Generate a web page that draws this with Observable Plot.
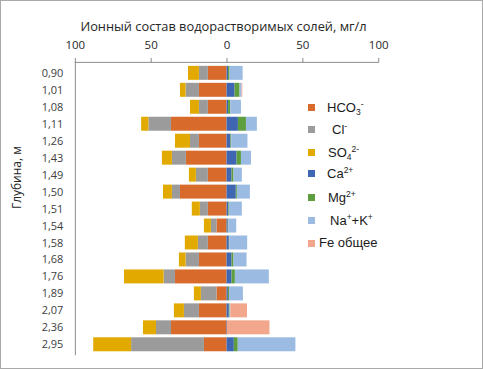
<!DOCTYPE html>
<html>
<head>
<meta charset="utf-8">
<script src="https://cdn.jsdelivr.net/npm/d3@7"></script>
<script src="https://cdn.jsdelivr.net/npm/@observablehq/plot@0.6"></script>
<style>
  html, body { margin: 0; padding: 0; background: #fff; }
  #wrap { position: relative; width: 483px; height: 369px; box-sizing: border-box; border: 1px solid #a9a9a9; overflow: hidden; font-family: "Open Sans", "Liberation Sans", sans-serif; }
  #chart { position: absolute; left: -1px; top: -1px; }
  #title { position: absolute; left: 0; width: 445px; top: 16px; text-align: center; font-size: 12.8px; color: #262626; }
  #legend { position: absolute; left: 307px; top: 0; font-family: "Liberation Sans", Arial, sans-serif; font-size: 13px; color: #1a1a1a; }
  .li { position: absolute; white-space: nowrap; }
  .sw { position: absolute; width: 7px; height: 7px; }
  .li sub, .li sup { font-size: 8.5px; }
  .li sub { vertical-align: -3px; }
  .li sup { vertical-align: 5px; }
</style>
</head>
<body>
<div id="wrap">
  <div id="chart"></div>
  <div id="title">Ионный состав водорастворимых солей, мг/л</div>
  <div id="legend"></div>
</div>
<script>
const depths = ["0,90","1,01","1,08","1,11","1,26","1,43","1,49","1,50","1,51","1,54","1,58","1,68","1,76","1,89","2,07","2,36","2,95"];
const hco3 = [12.3, 18.2, 12.3, 36.6, 18.2, 26.8, 12.3, 30.7, 12.3, 6.6, 12.3, 18.2, 34.0, 6.6, 18.2, 36.6, 14.9];
const cl   = [5.9, 8.8, 5.9, 14.9, 5.9, 9.2, 7.9, 5.3, 5.3, 3.7, 6.6, 8.8, 7.5, 10.3, 9.9, 9.9, 48.0];
const so4  = [7.2, 3.7, 5.9, 4.8, 9.9, 6.6, 4.6, 5.9, 5.3, 4.6, 8.6, 4.4, 26.1, 4.6, 6.6, 8.6, 25.0];
const ca   = [1.0, 5.3, 1.0, 7.5, 2.6, 6.6, 3.3, 6.1, 1.0, 0.8, 1.5, 3.3, 3.3, 0.9, 1.5, 0.3, 4.8];
const mg   = [1.0, 3.3, 1.5, 5.3, 0.5, 2.9, 1.3, 0.7, 0.5, 0.3, 0.3, 1.3, 2.2, 0.7, 0.5, 0.0, 2.6];
const nak  = [8.6, 1.3, 7.0, 7.2, 10.7, 6.6, 5.5, 8.6, 8.6, 5.3, 11.8, 8.6, 22.4, 9.2, 0.5, 0.0, 38.0];
const fe   = [0.0, 0.5, 0.0, 0.0, 0.0, 0.0, 0.0, 0.0, 0.0, 0.0, 0.0, 0.0, 0.0, 0.0, 11.0, 28.0, 0.0];
const xTicks = [-100, -50, 0, 50, 100];

const ions = ["HCO3", "Cl", "SO4", "Ca", "Mg", "NaK", "Fe"];
const colors = ["#d86b2b", "#9b9b9b", "#e2aa00", "#3e66b3", "#5f9e3f", "#9bbbe3", "#f2a78c"];
const series = [hco3, cl, so4, ca, mg, nak, fe];
const sign = [-1, -1, -1, 1, 1, 1, 1];

const rows = [];
ions.forEach((ion, k) => {
  depths.forEach((d, i) => {
    rows.push({depth: d, ion, value: sign[k] * series[k][i]});
  });
});

const topLine = (index, scales, values, dims) => {
  const g = d3.create("svg:line")
    .attr("x1", scales.x(-100)).attr("x2", scales.x(100))
    .attr("y1", dims.marginTop + 0.5).attr("y2", dims.marginTop + 0.5)
    .attr("stroke", "#8c8c8c");
  return g.node();
};

const chart = Plot.plot({
  width: 483,
  height: 369,
  marginLeft: 75,
  marginRight: 104,
  marginTop: 62,
  marginBottom: 13,
  style: {fontFamily: "'Open Sans', 'Liberation Sans', sans-serif", fontSize: "11px", color: "#404040", background: "transparent"},
  x: {domain: [-100, 100], axis: null, label: null},
  y: {domain: depths, paddingInner: 0.15, paddingOuter: 0.075, axis: null, label: null},
  color: {domain: ions, range: colors},
  marks: [
    Plot.barX(rows, Plot.stackX({x: "value", y: "depth", fill: "ion", order: ions})),
    Plot.axisX({anchor: "top", ticks: xTicks, tickFormat: d => Math.abs(d), tickSize: 5, tickPadding: 8, stroke: "#8c8c8c", fill: "#262626", fontSize: 11.5, label: null}),
    topLine,
    Plot.axisY({tickSize: 0, tickPadding: 12, fill: "#404040", fontSize: 11, label: null}),
    Plot.ruleX([-100], {stroke: "#8c8c8c"}),
    Plot.text(["Глубина, м"], {frameAnchor: "left", dx: -58, rotate: -90, fontSize: 12, fill: "#262626"})
  ]
});
document.getElementById("chart").appendChild(chart);

const legendItems = [
  {html: "HCO<sub>3</sub><sup>-</sup>", c: colors[0], y: 107, tx: 19},
  {html: "Cl<sup>-</sup>", c: colors[1], y: 129, tx: 24},
  {html: "SO<sub>4</sub><sup>2-</sup>", c: colors[2], y: 152, tx: 20},
  {html: "Ca<sup>2+</sup>", c: colors[3], y: 173, tx: 19},
  {html: "Mg<sup>2+</sup>", c: colors[4], y: 197, tx: 20},
  {html: "Na<sup>+</sup>+K<sup>+</sup>", c: colors[5], y: 220, tx: 22},
  {html: "Fe общее", c: colors[6], y: 243, tx: 11}
];
const lg = document.getElementById("legend");
legendItems.forEach(it => {
  const sw = document.createElement("div");
  sw.className = "sw";
  sw.style.background = it.c;
  sw.style.left = "0px";
  sw.style.top = (it.y - 4) + "px";
  lg.appendChild(sw);
  const t = document.createElement("div");
  t.className = "li";
  t.innerHTML = it.html;
  t.style.left = it.tx + "px";
  t.style.top = (it.y - 9) + "px";
  lg.appendChild(t);
});
</script>
</body>
</html>
